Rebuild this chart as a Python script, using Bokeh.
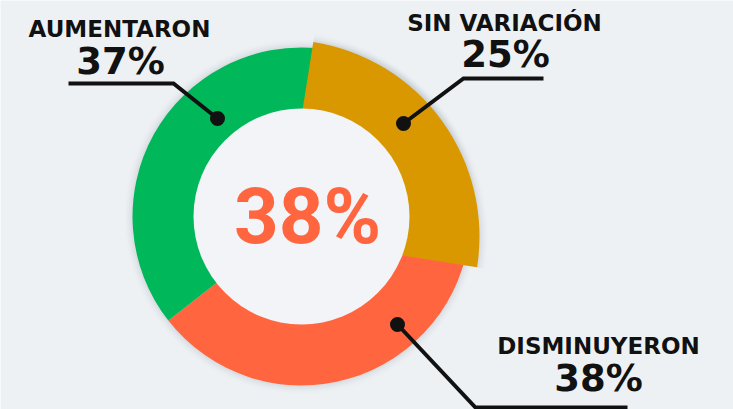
import numpy as np
from bokeh.plotting import figure
from bokeh.models import Range1d
from bokeh.embed import file_html
from bokeh.resources import INLINE
from bokeh.core.properties import value

# ---- data ----
categories = ["SIN VARIACIÓN", "DISMINUYERON", "AUMENTARON"]
values = [25, 38, 37]
pct_labels = ["25%", "38%", "37%"]
colors = ["#DA9800", "#FF6640", "#00B75A"]
center_label = "38%"

# ---- layout ----
W, H = 733, 409
BG = "#EEF1F4"
HOLE = "#F3F4F7"


def px(X, Y):
    """page pixel -> data coords"""
    return X, H - Y


p = figure(width=W, height=H, x_range=Range1d(0, W), y_range=Range1d(0, H),
           output_backend="svg", toolbar_location=None, min_border=0)
p.axis.visible = False
p.grid.visible = False
p.outline_line_color = None
p.background_fill_color = BG
p.border_fill_color = BG

cx, cy = px(301, 216)          # main donut centre
R_out, R_in = 169, 100
gx, gy = px(282, 236)          # pulled-out slice centre
G_out = 197
start_cw = 5.2                 # degrees, clockwise from top
gold_rot = 3.8

fr = np.array(values, dtype=float) / sum(values)
edges = start_cw + np.concatenate([[0], np.cumsum(fr)]) * 360.0


def ang(c):
    return np.radians(90.0 - c)


# soft shadows
for d, a in [(2, 0.06), (4, 0.045), (6, 0.03), (8, 0.02)]:
    p.circle(x=cx, y=cy, radius=R_out + d, fill_color="#7d8590", fill_alpha=a, line_color=None)
    p.wedge(x=gx, y=gy, radius=G_out + d,
            start_angle=ang(edges[0] + gold_rot), end_angle=ang(edges[1] + gold_rot),
            direction="clock", fill_color="#7d8590", fill_alpha=a, line_color=None)

# main ring: the non-pulled slices
for i in [1, 2]:
    p.annular_wedge(x=cx, y=cy, inner_radius=R_in, outer_radius=R_out,
                    start_angle=ang(edges[i]), end_angle=ang(edges[i + 1] + (1.0 if i == 2 else 0)),
                    direction="clock", fill_color=colors[i], line_color=None)

# pulled slice
p.wedge(x=gx, y=gy, radius=G_out,
        start_angle=ang(edges[0] + gold_rot), end_angle=ang(edges[1] + gold_rot),
        direction="clock", fill_color=colors[0], line_color=None)

# hole
p.circle(x=cx, y=cy, radius=108, fill_color=HOLE, line_color=None)

# centre label
tx, ty = px(307, 216)
p.text(x=[tx], y=[ty], text=[center_label], text_align="center", text_baseline="middle",
       text_font=value("Roboto"), text_font_style="bold", text_font_size="78px",
       text_color=colors[1])

# leader lines and dots
INK = "#111111"
leaders = {
    "AUMENTARON": [(68, 83), (173, 83), (217, 118)],
    "SIN VARIACIÓN": [(543, 78), (463, 78), (403, 123)],
    "DISMINUYERON": [(627, 407), (475, 407), (397, 324)],
}
for name, pts in leaders.items():
    xs, ys = zip(*[px(a, b) for a, b in pts])
    p.line(x=list(xs), y=list(ys), line_width=4, line_color=INK, line_join="miter")
    p.scatter(x=[xs[-1]], y=[ys[-1]], size=15, fill_color=INK, line_color=None)

# labels (cap-centre positions)
label_pos = {
    "AUMENTARON": ((119, 28.5), (120, 61)),
    "SIN VARIACIÓN": ((504, 22.5), (505, 53.5)),
    "DISMINUYERON": ((598, 345), (598, 378)),
}
for name, pct in zip(categories, pct_labels):
    (a, b), (c, d) = label_pos[name]
    x1, y1 = px(a, b)
    x2, y2 = px(c, d)
    p.text(x=[x1], y=[y1], text=[name], text_align="center", text_baseline="middle",
           text_font=value("DejaVu Sans"), text_font_style="bold", text_font_size="23px",
           text_color=INK)
    p.text(x=[x2], y=[y2], text=[pct], text_align="center", text_baseline="middle",
           text_font=value("DejaVu Sans"), text_font_style="bold", text_font_size="37px",
           text_color=INK)

html = file_html(p, INLINE)
html = html.replace("<body>", '<body style="margin:0;background-color:%s;">' % BG, 1)
open("out.html", "w").write(html)
